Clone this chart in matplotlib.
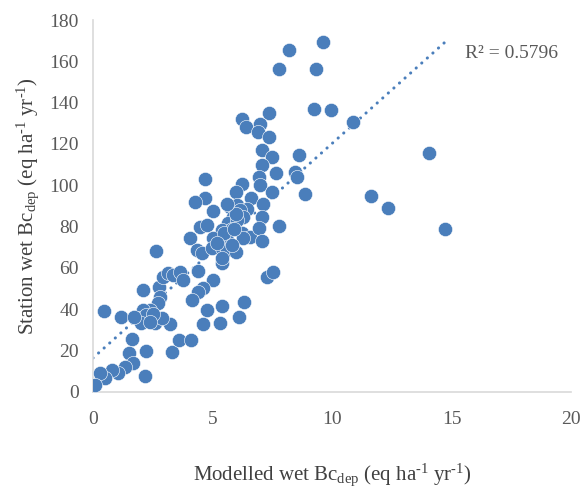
import numpy as np
import matplotlib
matplotlib.use("Agg")
import matplotlib.pyplot as plt

plt.rcParams['font.family'] = 'Liberation Serif'
plt.rcParams['mathtext.fontset'] = 'custom'
plt.rcParams['mathtext.rm'] = 'Liberation Serif'
plt.rcParams['mathtext.it'] = 'Liberation Serif:italic'
plt.rcParams['axes.unicode_minus'] = False

# modelled wet Bc deposition (x) vs station wet Bc deposition (y)
modelled = [9.62, 8.19, 7.80, 9.32, 9.25, 9.96, 7.35, 6.25, 6.39, 6.97, 6.92, 7.35,
            10.88, 8.62, 8.87, 14.05, 11.61, 12.34, 14.72,
            7.06, 7.50, 7.07, 7.64, 8.44, 8.54, 6.96, 7.00, 6.23, 5.97, 7.50,
            4.70, 4.69, 4.28, 6.60, 7.10, 5.00, 5.73, 6.01, 6.43, 6.15, 6.28,
            5.86, 5.65, 6.04, 7.08, 7.80, 4.48, 4.78, 5.38, 5.80, 6.22, 6.57,
            6.96, 7.06, 4.06, 5.03, 5.59, 6.29, 2.64, 4.34, 4.55, 4.97, 5.38,
            5.59, 5.98, 5.38, 5.41, 4.41, 5.01, 4.62, 4.41, 4.13, 7.27, 7.54,
            4.76, 5.38, 6.32, 6.12, 4.59, 5.31, 3.22, 2.67,
            0.47, 1.16, 1.62, 1.51, 2.22, 2.18, 1.69, 1.34, 1.06, 0.78, 0.50,
            0.29, 0.08, 3.29, 3.61, 4.10, 2.09, 2.76, 2.94, 3.15, 3.36, 3.64,
            3.78, 2.80, 2.73, 2.38, 2.11, 1.90, 2.25, 2.59, 2.87, 2.20, 2.50,
            2.00, 2.40, 1.70, 5.50, 5.80, 6.00, 5.60, 5.20, 5.90]
station = [169.3, 165.5, 156.1, 156.1, 136.8, 136.3, 134.8, 131.9, 128.2, 129.8, 125.9, 123.5,
           130.6, 114.5, 95.9, 115.4, 94.8, 89.0, 78.6,
           117.1, 113.8, 109.8, 105.8, 106.6, 104.2, 103.9, 100.1, 100.6, 96.9, 96.9,
           103.0, 94.0, 91.8, 93.7, 91.1, 87.5, 89.6, 90.5, 88.4, 88.0, 84.7,
           84.7, 81.8, 83.2, 84.8, 80.5, 80.0, 80.8, 78.4, 78.7, 76.8, 74.8,
           79.1, 72.9, 74.5, 74.4, 73.5, 74.4, 68.4, 68.7, 67.1, 69.5, 69.5,
           68.7, 67.6, 62.3, 64.6, 58.7, 54.2, 50.2, 48.5, 44.5, 55.8, 58.2,
           39.7, 41.6, 43.7, 36.4, 32.9, 33.2, 32.7, 34.8,
           39.2, 36.4, 25.5, 18.7, 19.8, 7.7, 14.2, 12.2, 9.0, 10.6, 6.6,
           9.0, 3.4, 19.5, 25.2, 25.2, 49.3, 50.7, 55.8, 57.5, 56.6, 58.2,
           54.2, 46.1, 42.9, 39.7, 39.7, 35.7, 34.8, 33.2, 35.7, 37.0, 37.5,
           33.5, 34.0, 36.0, 77.0, 71.0, 86.0, 91.0, 72.0, 79.0]
r2_text = "R² = 0.5796"

x = np.array(modelled)
y = np.array(station)
slope, intercept = np.polyfit(x, y, 1)

blue = '#4a7ebb'
fig = plt.figure(figsize=(5.81, 4.88), dpi=100)
ax = fig.add_axes([0.160, 0.197, 0.823, 0.762])

ax.scatter(x, y, s=105, color=blue, edgecolors='white', linewidths=0.4, zorder=3)
xl = np.array([0, x.max()])
ax.plot(xl, intercept + slope * xl, color=blue, lw=2.2,
        linestyle=(0, (0.05, 2.4)), dash_capstyle='round', zorder=2)

ax.set_xlim(0, 20)
ax.set_ylim(0, 180)
ax.set_xticks(range(0, 21, 5))
ax.set_yticks(range(0, 181, 20))
for s in ['top', 'right']:
    ax.spines[s].set_visible(False)
for s in ['left', 'bottom']:
    ax.spines[s].set_color('#d9d9d9')
    ax.spines[s].set_linewidth(1.2)
ax.tick_params(length=0, labelsize=14, labelcolor='#595959')
ax.tick_params(axis='x', pad=14)
ax.tick_params(axis='y', pad=10)

ax.text(15.55, 164, r2_text, fontsize=14, color='#595959', va='center', ha='left')
unit = r' (eq ha$^\text{-1}$ yr$^\text{-1}$)'
ax.set_xlabel(r'Modelled wet Bc$_\mathregular{dep}$' + unit,
              fontsize=15, color='#404040', labelpad=24)
ax.set_ylabel(r'Station wet Bc$_\mathregular{dep}$' + unit,
              fontsize=15, color='#404040', labelpad=6)

fig.savefig('out.png', dpi=100)
